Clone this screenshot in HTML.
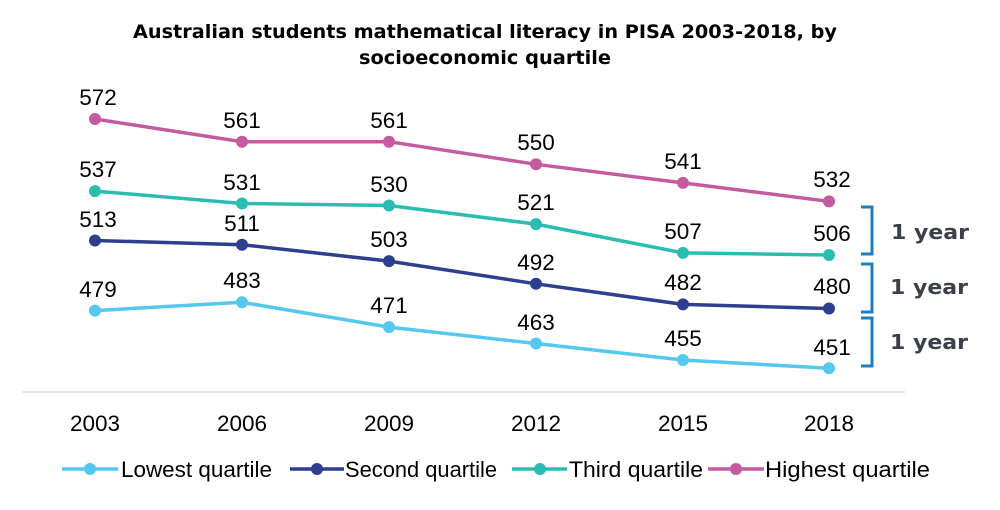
<!DOCTYPE html>
<html><head><meta charset="utf-8"><style>
body{margin:0;background:#fff;}
svg text{font-family:"Liberation Sans",sans-serif;}
</style></head><body>
<svg width="1000" height="505" viewBox="0 0 1000 505" xmlns="http://www.w3.org/2000/svg">
<g font-family="DejaVu Sans" font-size="19" font-weight="bold" text-anchor="middle">
<text x="485" y="38" style="font-family:'DejaVu Sans',sans-serif" textLength="704" lengthAdjust="spacingAndGlyphs">Australian students mathematical literacy in PISA 2003-2018, by</text>
<text x="485" y="64" style="font-family:'DejaVu Sans',sans-serif" textLength="252" lengthAdjust="spacingAndGlyphs">socioeconomic quartile</text>
</g>
<line x1="22" y1="392" x2="905" y2="392" stroke="#d9d9d9" stroke-width="1.5"/>
<g font-size="22.5" text-anchor="middle" fill="#000">
<text x="95" y="431">2003</text><text x="242" y="431">2006</text><text x="389" y="431">2009</text>
<text x="536" y="431">2012</text><text x="683" y="431">2015</text><text x="829" y="431">2018</text>
</g>
<g fill="none" stroke-width="3.5">
<polyline stroke="#c45ba0" points="95,119 242,141.7 389,141.7 536,164.3 683,182.9 829,201.4"/>
<polyline stroke="#2bbdb2" points="95,191.1 242,203.5 389,205.5 536,224.1 683,252.9 829,255"/>
<polyline stroke="#2e3f8f" points="95,240.5 242,244.7 389,261.1 536,283.8 683,304.4 829,308.5"/>
<polyline stroke="#55c8f0" points="95,310.6 242,302.3 389,327.1 536,343.5 683,360 829,368.3"/>
</g>
<g fill="#c45ba0"><circle cx="95" cy="119" r="6"/><circle cx="242" cy="141.7" r="6"/><circle cx="389" cy="141.7" r="6"/><circle cx="536" cy="164.3" r="6"/><circle cx="683" cy="182.9" r="6"/><circle cx="829" cy="201.4" r="6"/></g>
<g fill="#2bbdb2"><circle cx="95" cy="191.1" r="6"/><circle cx="242" cy="203.5" r="6"/><circle cx="389" cy="205.5" r="6"/><circle cx="536" cy="224.1" r="6"/><circle cx="683" cy="252.9" r="6"/><circle cx="829" cy="255" r="6"/></g>
<g fill="#2e3f8f"><circle cx="95" cy="240.5" r="6"/><circle cx="242" cy="244.7" r="6"/><circle cx="389" cy="261.1" r="6"/><circle cx="536" cy="283.8" r="6"/><circle cx="683" cy="304.4" r="6"/><circle cx="829" cy="308.5" r="6"/></g>
<g fill="#55c8f0"><circle cx="95" cy="310.6" r="6"/><circle cx="242" cy="302.3" r="6"/><circle cx="389" cy="327.1" r="6"/><circle cx="536" cy="343.5" r="6"/><circle cx="683" cy="360" r="6"/><circle cx="829" cy="368.3" r="6"/></g>
<g font-size="22.5" text-anchor="middle" fill="#000">
<text x="98" y="105">572</text><text x="242" y="128">561</text><text x="389" y="128">561</text><text x="536" y="150">550</text><text x="683" y="169">541</text><text x="832" y="187">532</text>
<text x="98" y="177">537</text><text x="242" y="190">531</text><text x="389" y="192">530</text><text x="536" y="210">521</text><text x="683" y="239">507</text><text x="832" y="241">506</text>
<text x="98" y="227">513</text><text x="242" y="231">511</text><text x="389" y="247">503</text><text x="536" y="270">492</text><text x="683" y="290">482</text><text x="832" y="294">480</text>
<text x="98" y="297">479</text><text x="242" y="288">483</text><text x="389" y="313">471</text><text x="536" y="330">463</text><text x="683" y="346">455</text><text x="832" y="355">451</text>
</g>
<g fill="none" stroke="#1f7ec2" stroke-width="3">
<polyline points="861,207 872,207 872,254 861,254"/>
<polyline points="861,264 872,264 872,312 861,312"/>
<polyline points="861,318 872,318 872,366 861,366"/>
</g>
<g font-size="20" font-weight="bold" fill="#3a3f4a" style="font-family:'DejaVu Sans',sans-serif">
<text x="891" y="239" style="font-family:'DejaVu Sans',sans-serif" textLength="78" lengthAdjust="spacingAndGlyphs">1 year</text>
<text x="890" y="294" style="font-family:'DejaVu Sans',sans-serif" textLength="78" lengthAdjust="spacingAndGlyphs">1 year</text>
<text x="890" y="349" style="font-family:'DejaVu Sans',sans-serif" textLength="78" lengthAdjust="spacingAndGlyphs">1 year</text>
</g>
<g stroke-width="3.5">
<line x1="62" y1="469" x2="118" y2="469" stroke="#55c8f0"/><circle cx="90" cy="469" r="6" fill="#55c8f0"/>
<line x1="290" y1="469" x2="344" y2="469" stroke="#2e3f8f"/><circle cx="317" cy="469" r="6" fill="#2e3f8f"/>
<line x1="512" y1="469" x2="567" y2="469" stroke="#2bbdb2"/><circle cx="540" cy="469" r="6" fill="#2bbdb2"/>
<line x1="708" y1="469" x2="764" y2="469" stroke="#c45ba0"/><circle cx="736" cy="469" r="6" fill="#c45ba0"/>
</g>
<g font-size="22" fill="#000">
<text x="121" y="477" textLength="151" lengthAdjust="spacingAndGlyphs">Lowest quartile</text>
<text x="345" y="477" textLength="152" lengthAdjust="spacingAndGlyphs">Second quartile</text>
<text x="569" y="477" textLength="134" lengthAdjust="spacingAndGlyphs">Third quartile</text>
<text x="765" y="477" textLength="165" lengthAdjust="spacingAndGlyphs">Highest quartile</text>
</g>
</svg>
</body></html>
